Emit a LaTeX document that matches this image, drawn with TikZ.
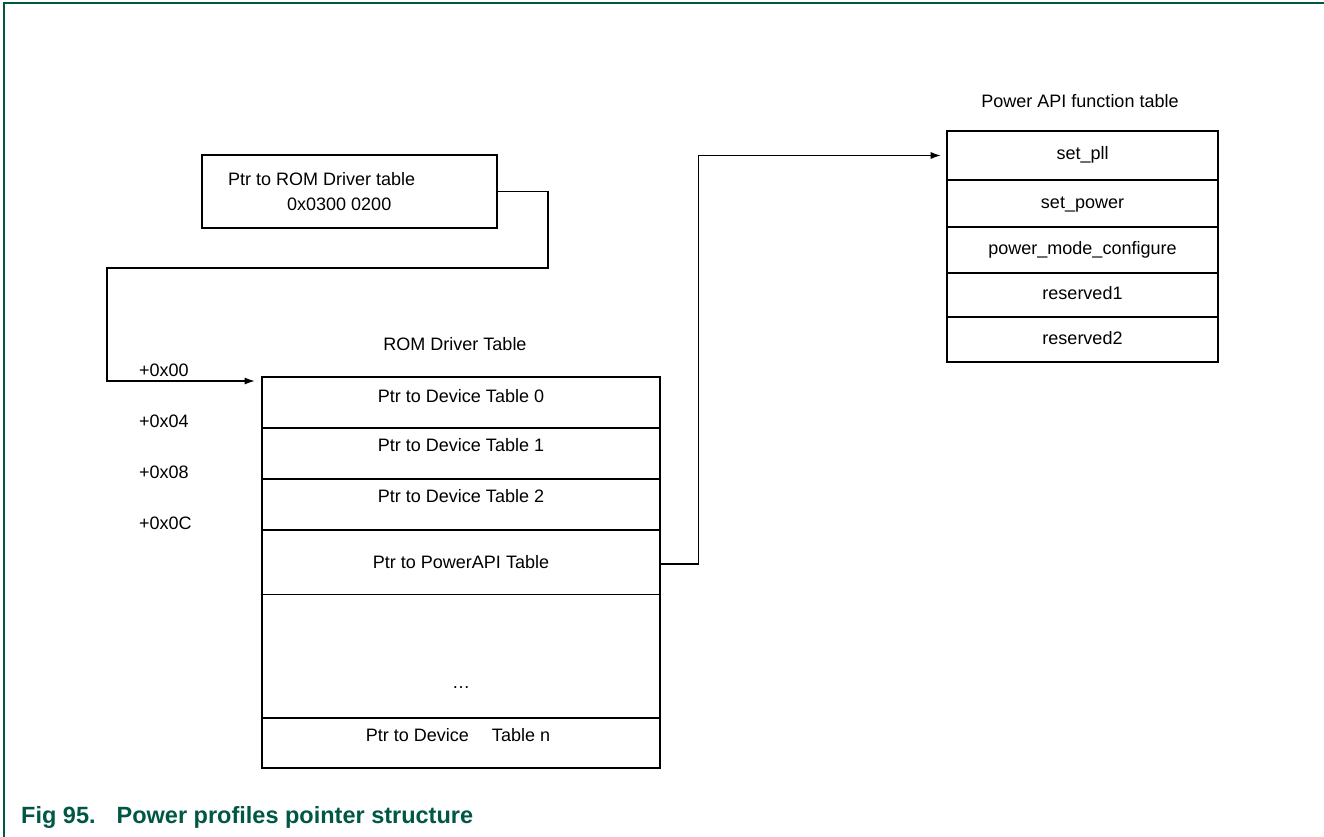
\documentclass[tikz,border=0pt]{standalone}
\usepackage{fontspec}
\setmainfont{Liberation Sans}
\usetikzlibrary{arrows.meta}
\definecolor{nxpgreen}{RGB}{0,88,68}

\begin{document}
\begin{tikzpicture}[x=1pt, y=-1pt,
    lbl/.style={font=\fontsize{18}{22}\selectfont, inner sep=0pt, text height=13pt, text depth=4pt},
    cell/.style={draw, line width=2.6pt, inner sep=0pt, minimum width=398pt},
    apicell/.style={lbl, draw, line width=2.6pt, minimum width=271pt},
    link/.style={line width=1.2pt, -{Latex[length=10pt,width=7pt]}}]
    \useasboundingbox (0,0) rectangle (1324,837);
    \draw[nxpgreen, line width=1.6pt] (1324,3) -- (4,3) -- (4,837);

    \node[draw, line width=2.6pt, minimum width=295pt, minimum height=73pt] (ptr) at (349.5,191.5) {};
    \node[lbl, anchor=west] (ptrname) at (228,181) {Ptr to ROM Driver table};
    \node[lbl, anchor=west] (ptraddr) at (287,206) {0x0300 0200};

    \node[lbl] (romtitle) at (455,346) {ROM Driver Table};
    \node[cell, minimum height=51pt] (row0) at (461,402.5) {};
    \node[cell, minimum height=51pt] (row1) at (461,453.5) {};
    \node[cell, minimum height=51pt] (row2) at (461,504.5) {};
    \node[cell, minimum height=188pt] (rest) at (461,624) {};
    \node[cell, minimum height=50pt] (rown) at (461,743) {};
    \draw[line width=1pt] (rest.west |- 0,594) -- (rest.east |- 0,594);

    \node[lbl] (dev0) at (461,398) {Ptr to Device Table 0};
    \node[lbl] (dev1) at (461,447) {Ptr to Device Table 1};
    \node[lbl] (dev2) at (461,498) {Ptr to Device Table 2};
    \node[lbl] (pwrtxt) at (461,564) {Ptr to PowerAPI Table};
    \node[lbl] (dots) at (461,684) {…};
    \node[lbl] (devn) at (458,737) {Ptr to Device\hspace{18pt} Table n};

    \node[lbl, anchor=west] (off0) at (139,372) {+0x00};
    \node[lbl, anchor=west] (off4) at (139,423) {+0x04};
    \node[lbl, anchor=west] (off8) at (139,474) {+0x08};
    \node[lbl, anchor=west] (offc) at (139,525) {+0x0C};

    \node[lbl] (apititle) at (1080,103) {Power API function table};
    \node[apicell, minimum height=49pt] (pll) at (1082.5,155.5) {set\_pll};
    \node[apicell, minimum height=47pt] (power) at (1082.5,203.5) {set\_power};
    \node[apicell, minimum height=46pt] (mode) at (1082.5,250) {power\_mode\_configure};
    \node[apicell, minimum height=44pt] (res1) at (1082.5,295) {reserved1};
    \node[apicell, minimum height=45pt] (res2) at (1082.5,339.5) {reserved2};

    \coordinate (bendA) at (548,268);
    \coordinate (bendB) at (107,381);
    \draw[link, shorten >=6pt] (ptr.east) -| (bendA) -| (bendB) -- (row0.west |- bendB);
    \draw[link, shorten >=5pt] (rest.east |- pwrtxt) -- ++(37,0) |- (pll.west);

    \node[font=\fontsize{23.5}{28}\selectfont\bfseries, text=nxpgreen, anchor=base west, inner sep=0pt] (caption) at (21,823) {Fig 95.\hspace{21pt}Power profiles pointer structure};
\end{tikzpicture}
\end{document}
